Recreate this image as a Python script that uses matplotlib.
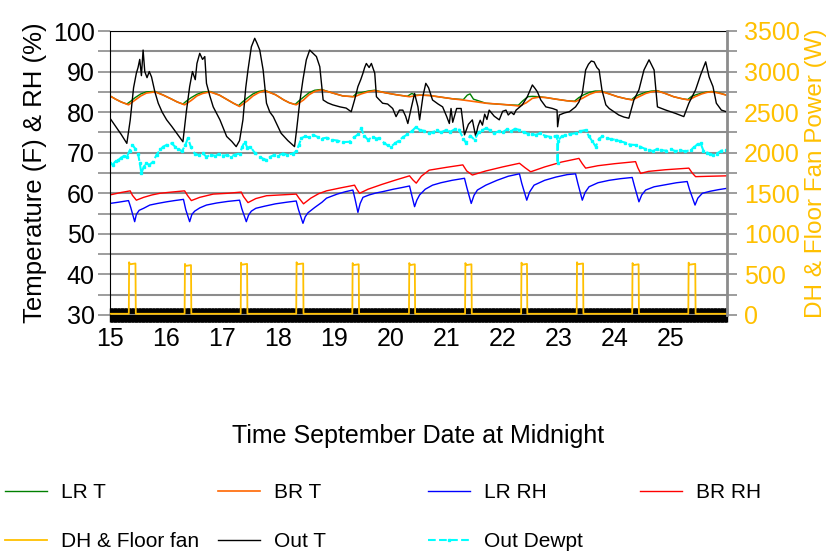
import matplotlib
matplotlib.use('Agg')
import matplotlib.pyplot as plt
from matplotlib.ticker import MultipleLocator, FixedLocator

plt.rcParams['font.family'] = ['Liberation Sans', 'DejaVu Sans']

GOLD = '#FFC000'
GRID = '#8c8c8c'

# outdoor temperature (F), day of September
out_t_day = [15.00, 15.02, 15.10, 15.20, 15.30, 15.36, 15.42, 15.47, 15.50, 15.53, 15.56, 15.59, 15.62,
             15.66, 15.70, 15.74, 15.80, 15.86, 15.93, 16.01, 16.10, 16.19, 16.30, 16.36, 16.42, 16.47,
             16.52, 16.55, 16.60, 16.65, 16.69, 16.72, 16.78, 16.84, 16.96, 17.08, 17.17, 17.25, 17.31,
             17.37, 17.42, 17.46, 17.52, 17.56, 17.58, 17.62, 17.67, 17.73, 17.79, 17.85, 17.91, 18.05,
             18.17, 18.29, 18.33, 18.38, 18.44, 18.50, 18.56, 18.62, 18.68, 18.74, 18.80, 18.88, 18.97,
             19.10, 19.21, 19.30, 19.36, 19.42, 19.47, 19.51, 19.54, 19.57, 19.62, 19.66, 19.72, 19.75,
             19.86, 19.95, 20.04, 20.10, 20.16, 20.22, 20.27, 20.31, 20.37, 20.43, 20.49, 20.52, 20.58,
             20.63, 20.68, 20.75, 20.85, 20.93, 21.00, 21.05, 21.08, 21.11, 21.18, 21.26, 21.32, 21.39,
             21.46, 21.52, 21.56, 21.60, 21.64, 21.68, 21.72, 21.76, 21.85, 21.94, 22.00, 22.06, 22.10,
             22.15, 22.20, 22.24, 22.35, 22.44, 22.53, 22.58, 22.62, 22.68, 22.77, 22.89, 22.97, 22.98,
             23.01, 23.10, 23.19, 23.30, 23.36, 23.42, 23.48, 23.53, 23.58, 23.63, 23.68, 23.72, 23.77,
             23.84, 23.90, 24.07, 24.16, 24.25, 24.34, 24.43, 24.52, 24.56, 24.61, 24.66, 24.70, 24.76,
             24.91, 25.08, 25.23, 25.32, 25.44, 25.53, 25.58, 25.62, 25.68, 25.75, 25.81, 25.90, 25.99]
out_t = [78.5, 78.1, 76.5, 74.5, 72.3, 78.0, 86.0, 89.6, 91.0, 93.0, 89.0, 95.3, 90.0,
         88.5, 90.0, 88.7, 85.0, 82.2, 80.0, 78.1, 76.5, 74.8, 72.7, 80.0, 86.3, 90.0,
         88.0, 92.0, 94.5, 93.0, 93.7, 87.1, 84.0, 81.3, 78.1, 74.0, 72.8, 71.5, 73.0,
         78.1, 86.0, 90.4, 96.1, 97.5, 98.2, 97.0, 95.3, 90.4, 82.2, 80.0, 78.9, 74.8,
         73.0, 71.5, 76.0, 82.2, 88.0, 92.9, 95.3, 94.5, 93.7, 91.2, 83.0, 82.3, 81.8,
         81.3, 81.0, 80.1, 83.0, 86.3, 88.0, 89.6, 91.0, 92.0, 91.0, 92.0, 89.6, 83.8,
         82.2, 82.0, 80.9, 78.9, 80.5, 80.5, 79.0, 77.2, 81.0, 84.6, 81.3, 78.1, 84.0,
         87.1, 86.0, 83.0, 82.0, 81.3, 79.0, 77.2, 80.9, 77.5, 80.9, 80.9, 74.4, 77.0,
         78.1, 74.0, 76.5, 78.0, 76.8, 79.5, 78.2, 80.5, 79.0, 78.1, 80.2, 80.5, 79.3,
         80.0, 79.4, 80.5, 81.8, 83.8, 86.7, 85.8, 85.0, 83.0, 81.3, 80.9, 80.5, 76.4,
         79.3, 79.8, 80.1, 81.3, 82.5, 84.6, 90.4, 91.8, 92.6, 92.4, 91.0, 90.4, 85.5,
         81.8, 80.9, 79.3, 78.8, 78.5, 83.0, 85.5, 90.4, 91.5, 92.9, 91.5, 90.4, 81.3,
         80.5, 79.7, 78.9, 82.2, 85.5, 89.2, 91.0, 92.4, 88.7, 86.3, 82.2, 80.5, 80.1]

# outdoor dewpoint (F)
dew_day = [15.00, 15.05, 15.10, 15.15, 15.20, 15.25, 15.30, 15.35, 15.40, 15.45, 15.50, 15.53, 15.56,
           15.60, 15.65, 15.70, 15.77, 15.83, 15.90, 15.95, 16.02, 16.10, 16.16, 16.22, 16.28, 16.34,
           16.39, 16.44, 16.51, 16.58, 16.65, 16.72, 16.80, 16.88, 16.95, 17.02, 17.08, 17.15, 17.22,
           17.31, 17.36, 17.40, 17.45, 17.50, 17.58, 17.67, 17.73, 17.79, 17.86, 17.93, 18.00, 18.08,
           18.16, 18.26, 18.32, 18.37, 18.41, 18.48, 18.55, 18.62, 18.70, 18.78, 18.86, 18.95, 19.05,
           19.15, 19.27, 19.35, 19.42, 19.48, 19.53, 19.60, 19.68, 19.75, 19.80, 19.88, 19.95, 20.01,
           20.08, 20.15, 20.22, 20.30, 20.38, 20.46, 20.52, 20.60, 20.68, 20.75, 20.83, 20.90, 20.99,
           21.07, 21.15, 21.22, 21.30, 21.35, 21.42, 21.50, 21.57, 21.63, 21.70, 21.77, 21.85, 21.93,
           22.00, 22.08, 22.15, 22.22, 22.30, 22.38, 22.45, 22.52, 22.59, 22.67, 22.75, 22.85, 22.93,
           22.97, 22.98, 22.99, 23.05, 23.12, 23.20, 23.30, 23.38, 23.48, 23.54, 23.60, 23.66, 23.72,
           23.78, 23.86, 23.94, 24.02, 24.10, 24.18, 24.27, 24.37, 24.45, 24.53, 24.61, 24.68, 24.75,
           24.83, 24.92, 25.00, 25.08, 25.17, 25.26, 25.35, 25.42, 25.48, 25.53, 25.58, 25.65, 25.70,
           25.75, 25.82, 25.90, 25.99]
dew = [67.5, 67.0, 68.0, 68.2, 68.8, 69.2, 69.0, 70.5, 71.9, 71.0, 69.8, 67.5, 64.9,
       66.5, 67.4, 67.0, 67.8, 69.5, 70.8, 71.5, 72.0, 72.3, 71.5, 71.0, 70.3, 71.8,
       73.6, 71.5, 69.8, 69.4, 69.9, 69.0, 69.5, 69.2, 69.8, 69.3, 69.4, 69.0, 69.5,
       69.8, 71.5, 72.7, 71.2, 71.5, 70.0, 69.0, 68.5, 68.2, 69.0, 69.5, 69.3, 69.8,
       69.5, 69.8, 70.3, 72.0, 73.6, 74.0, 73.8, 74.4, 73.9, 73.5, 73.7, 73.2, 73.0,
       72.6, 72.7, 73.8, 74.5, 76.0, 74.2, 73.2, 73.9, 73.5, 73.6, 72.5, 71.8, 71.5,
       72.3, 73.0, 73.8, 74.5, 75.3, 76.4, 75.6, 75.4, 74.9, 75.0, 75.5, 75.0, 75.6,
       75.2, 75.8, 75.7, 73.5, 72.3, 74.2, 73.2, 75.0, 75.5, 76.0, 75.6, 74.8, 75.3,
       75.0, 75.8, 75.3, 75.9, 75.6, 75.0, 74.7, 74.6, 74.4, 74.8, 74.2, 73.9, 74.0,
       74.2, 67.4, 73.0, 74.0, 74.3, 74.6, 74.8, 75.3, 75.6, 74.0, 72.8, 71.5, 73.5,
       74.0, 73.6, 73.3, 73.2, 72.8, 72.5, 72.0, 71.9, 71.5, 71.0, 70.7, 70.4, 70.9,
       70.6, 70.5, 70.8, 70.4, 70.6, 70.3, 70.7, 71.4, 72.2, 72.3, 70.5, 70.0, 69.6,
       69.4, 69.8, 70.5, 70.7]

# bedroom temperature (F)
br_t_day = [15.00, 15.10, 15.20, 15.33, 15.45, 15.55, 15.65, 15.80, 15.95, 16.10, 16.20, 16.33, 16.45,
            16.55, 16.65, 16.78, 16.95, 17.10, 17.20, 17.31, 17.45, 17.55, 17.65, 17.76, 17.95, 18.10,
            18.20, 18.32, 18.45, 18.55, 18.65, 18.77, 18.95, 19.15, 19.36, 19.48, 19.60, 19.72, 19.90,
            20.10, 20.34, 20.52, 20.70, 20.90, 21.10, 21.29, 21.50, 21.70, 21.90, 22.10, 22.30, 22.42,
            22.53, 22.65, 22.77, 22.95, 23.15, 23.30, 23.42, 23.55, 23.65, 23.75, 23.90, 24.05, 24.20,
            24.31, 24.43, 24.55, 24.65, 24.76, 24.90, 25.05, 25.20, 25.32, 25.43, 25.55, 25.65, 25.73,
            25.85, 25.99]
br_t = [84.0, 83.2, 82.5, 81.8, 83.0, 84.0, 84.7, 85.0, 84.2, 83.2, 82.5, 81.8, 82.9,
        84.0, 84.6, 85.0, 84.2, 83.0, 82.2, 81.4, 82.8, 84.0, 84.8, 85.3, 84.3, 83.0,
        82.3, 81.8, 83.0, 84.3, 85.1, 85.5, 84.8, 84.0, 83.8, 84.5, 85.0, 85.3, 84.8,
        84.3, 83.8, 84.2, 84.1, 83.7, 83.3, 83.0, 82.6, 82.2, 82.0, 81.8, 81.5, 82.3,
        83.4, 83.7, 83.6, 83.2, 82.8, 82.6, 83.4, 84.4, 84.9, 85.1, 84.5, 83.8, 83.3,
        83.0, 83.8, 84.6, 85.0, 85.2, 84.6, 83.8, 83.3, 83.0, 83.8, 84.5, 84.9, 85.0,
        84.7, 84.2]

# living room temperature (F)
lr_t_day = [15.00, 15.10, 15.20, 15.30, 15.36, 15.45, 15.55, 15.65, 15.80, 15.95, 16.10, 16.20, 16.30,
            16.36, 16.45, 16.55, 16.65, 16.78, 16.95, 17.10, 17.20, 17.29, 17.36, 17.45, 17.55, 17.65,
            17.76, 17.95, 18.10, 18.20, 18.30, 18.37, 18.45, 18.55, 18.65, 18.77, 18.95, 19.15, 19.33,
            19.40, 19.48, 19.60, 19.72, 19.90, 20.10, 20.30, 20.38, 20.45, 20.52, 20.70, 20.90, 21.10,
            21.30, 21.37, 21.42, 21.48, 21.70, 21.90, 22.10, 22.28, 22.36, 22.45, 22.53, 22.65, 22.77,
            22.95, 23.15, 23.28, 23.36, 23.45, 23.55, 23.65, 23.75, 23.90, 24.05, 24.20, 24.30, 24.37,
            24.45, 24.55, 24.65, 24.76, 24.90, 25.05, 25.20, 25.30, 25.37, 25.45, 25.55, 25.65, 25.73,
            25.85, 25.99]
lr_t = [84.0, 83.2, 82.5, 82.0, 82.6, 83.6, 84.5, 85.0, 85.1, 84.2, 83.2, 82.5, 82.0,
        82.7, 83.6, 84.4, 84.9, 85.1, 84.2, 83.0, 82.2, 81.6, 82.5, 83.5, 84.5, 85.1,
        85.4, 84.3, 83.0, 82.3, 81.9, 82.8, 83.7, 84.8, 85.4, 85.6, 84.8, 84.0, 83.8,
        84.7, 84.8, 85.2, 85.4, 84.8, 84.3, 83.9, 84.6, 84.2, 84.2, 84.1, 83.7, 83.3,
        83.1, 84.2, 84.5, 83.2, 82.2, 82.0, 81.8, 81.7, 82.8, 83.8, 83.9, 83.8, 83.6,
        83.2, 82.8, 82.7, 83.6, 84.3, 84.9, 85.2, 85.2, 84.5, 83.8, 83.3, 83.1, 83.9,
        84.4, 84.9, 85.2, 85.3, 84.6, 83.8, 83.3, 83.1, 83.9, 84.3, 84.7, 85.0, 85.1,
        84.8, 84.2]

# living room relative humidity (%)
lr_rh_day = [15.00, 15.15, 15.33, 15.37, 15.44, 15.47, 15.52, 15.60, 15.71, 15.85, 16.01, 16.15, 16.31,
             16.35, 16.42, 16.46, 16.51, 16.60, 16.72, 16.90, 17.10, 17.31, 17.35, 17.43, 17.47, 17.52,
             17.60, 17.75, 17.95, 18.15, 18.32, 18.36, 18.44, 18.48, 18.53, 18.65, 18.78, 18.86, 19.05,
             19.20, 19.33, 19.37, 19.42, 19.46, 19.51, 19.62, 19.75, 19.86, 20.05, 20.20, 20.34, 20.38,
             20.43, 20.47, 20.52, 20.62, 20.75, 20.90, 21.10, 21.32, 21.36, 21.44, 21.49, 21.55, 21.70,
             21.90, 22.10, 22.30, 22.34, 22.43, 22.48, 22.56, 22.75, 22.95, 23.15, 23.30, 23.34, 23.42,
             23.47, 23.54, 23.70, 23.90, 24.10, 24.31, 24.35, 24.43, 24.48, 24.55, 24.70, 24.90, 25.10,
             25.29, 25.33, 25.43, 25.48, 25.56, 25.70, 25.85, 25.99]
lr_rh = [57.5, 57.8, 58.2, 56.5, 53.0, 54.8, 55.8, 56.3, 57.1, 57.5, 57.9, 58.2, 58.5,
         56.0, 53.0, 54.8, 55.6, 56.4, 57.1, 57.6, 58.0, 58.3, 56.2, 53.0, 54.6, 55.6,
         56.3, 56.8, 57.4, 57.8, 58.1, 56.0, 52.6, 54.2, 55.2, 56.5, 57.8, 58.8, 59.8,
         60.4, 60.8, 58.5, 55.3, 57.5, 59.0, 59.6, 60.1, 60.4, 61.0, 61.4, 61.8, 59.5,
         56.7, 58.3, 59.6, 61.0, 62.0, 62.6, 63.2, 63.7, 61.5, 57.5, 59.5, 60.8, 62.0,
         63.2, 64.2, 64.8, 62.5, 58.3, 60.3, 62.0, 63.2, 64.0, 64.6, 64.8, 62.5, 58.3,
         60.2, 61.6, 62.6, 63.2, 63.6, 63.9, 61.8, 57.9, 59.6, 60.8, 61.6, 62.1, 62.6,
         62.9, 61.0, 57.1, 58.8, 60.0, 60.5, 60.9, 61.2]

# bedroom relative humidity (%)
br_rh_day = [15.00, 15.20, 15.36, 15.40, 15.47, 15.60, 15.75, 15.89, 16.10, 16.33, 16.38, 16.45, 16.60,
             16.84, 17.10, 17.34, 17.38, 17.46, 17.60, 17.79, 18.05, 18.32, 18.37, 18.45, 18.58, 18.72,
             18.86, 19.10, 19.36, 19.40, 19.45, 19.60, 19.85, 20.10, 20.34, 20.40, 20.46, 20.55, 20.69,
             21.00, 21.29, 21.36, 21.46, 21.70, 22.00, 22.30, 22.40, 22.50, 22.75, 23.05, 23.36, 23.42,
             23.48, 23.70, 24.00, 24.37, 24.41, 24.46, 24.60, 24.90, 25.32, 25.38, 25.44, 25.70, 25.99]
br_rh = [59.6, 60.2, 60.6, 59.5, 58.3, 59.0, 59.6, 60.0, 60.3, 60.6, 59.5, 58.2, 59.0,
         59.8, 60.0, 60.3, 59.2, 57.7, 58.7, 59.4, 59.6, 59.8, 58.8, 57.4, 58.8, 59.9,
         60.6, 61.3, 62.0, 61.0, 60.0, 61.0, 62.2, 63.3, 64.3, 63.3, 62.5, 64.2, 65.7,
         66.4, 67.0, 65.5, 64.5, 65.5, 66.5, 67.4, 66.3, 65.3, 66.5, 67.7, 68.6, 67.3,
         66.2, 66.8, 67.3, 67.8, 66.3, 64.9, 65.4, 65.8, 66.2, 65.0, 64.1, 64.2, 64.3]

# dehumidifier + floor fan runs (W)
fan_on = [15.335, 16.33, 17.33, 18.32, 19.32, 20.33, 21.33, 22.33, 23.32, 24.31, 25.31]
fan_off = [15.46, 16.45, 17.45, 18.45, 19.44, 20.44, 21.45, 22.44, 23.44, 24.43, 25.44]
fan_peak = [650, 630, 645, 650, 640, 640, 640, 645, 650, 640, 645]
fan_idle = 15

fan_day = [15.0]
fan_w = [fan_idle]
for a, b, p in zip(fan_on, fan_off, fan_peak):
    fan_day += [a, a + 0.006, a + 0.02, b - 0.006, b]
    fan_w += [fan_idle, p, p - 25, p - 15, fan_idle]
fan_day.append(26.0)
fan_w.append(fan_idle)

fig = plt.figure(figsize=(8.33, 5.53), dpi=100)
ax = fig.add_axes([110 / 833, 1 - 315 / 553, 617 / 833, 284 / 553])
ax2 = ax.twinx()

l_lrt, = ax.plot(lr_t_day, lr_t, color='#008000', lw=1.0, label='LR T')
l_brt, = ax.plot(br_t_day, br_t, color='#FF6600', lw=1.2, label='BR T')
l_lrrh, = ax.plot(lr_rh_day, lr_rh, color='#0000FF', lw=1.0, label='LR RH')
l_brrh, = ax.plot(br_rh_day, br_rh, color='#FF0000', lw=1.0, label='BR RH')
l_out, = ax.plot(out_t_day, out_t, color='black', lw=1.0, label='Out T')
l_dew, = ax.plot(dew_day, dew, color='#00FFFF', lw=1.5, ls='--', marker='s', ms=2,
                 label='Out Dewpt')
l_fan, = ax2.plot(fan_day, fan_w, color=GOLD, lw=1.3, label='DH & Floor fan')

ax.set_xlim(15, 26)
ax.set_ylim(30, 100)
ax2.set_ylim(0, 3500)

ax.yaxis.set_major_locator(MultipleLocator(10))
ax.yaxis.set_minor_locator(MultipleLocator(5))
ax.grid(axis='y', which='both', color=GRID, lw=1.5)
ax.tick_params(axis='y', which='both', direction='out', length=9, width=1.2, color=GRID,
               labelsize=18, pad=2)

# very dense minor ticks give the solid black band along the date axis
ax.xaxis.set_major_locator(FixedLocator(list(range(15, 26))))
ax.xaxis.set_minor_locator(MultipleLocator(1 / 96))
ax.tick_params(axis='x', which='both', direction='inout', length=10, width=1.0, color='black')
ax.tick_params(axis='x', which='major', labelsize=18, pad=4)

ax2.yaxis.set_major_locator(MultipleLocator(500))
ax2.yaxis.set_minor_locator(MultipleLocator(250))
ax2.tick_params(axis='y', which='both', direction='out', length=7, width=1.2, color=GRID,
                labelsize=18, labelcolor=GOLD, pad=5)

for s in ['left', 'top']:
    ax.spines[s].set_color('black')
ax.spines['right'].set_visible(False)
ax2.spines['right'].set_color(GRID)
ax2.spines['right'].set_linewidth(2)
for s in ['left', 'top', 'bottom']:
    ax2.spines[s].set_visible(False)

ax.set_ylabel('Temperature (F) & RH (%)', fontsize=18.5, labelpad=4)
ax2.set_ylabel('DH & Floor Fan Power (W)', fontsize=17.5, color=GOLD, labelpad=4)
ax.set_xlabel('Time September Date at Midnight', fontsize=18, labelpad=52)

# legend laid out as a fixed grid of four columns
columns = [[l_lrt, l_fan], [l_brt, l_out], [l_lrrh, l_dew], [l_brrh]]
col_x = [5, 218, 428, 640]
for handles, x0 in zip(columns, col_x):
    fig.legend(handles=handles, labels=[h.get_label() for h in handles],
               loc='upper left', bbox_to_anchor=(x0 / 833, 1 - 483 / 553),
               frameon=False, fontsize=15, handlelength=2.0, handletextpad=0.7,
               labelspacing=1.45, borderpad=0, borderaxespad=0)

fig.savefig('out.png', dpi=100)
